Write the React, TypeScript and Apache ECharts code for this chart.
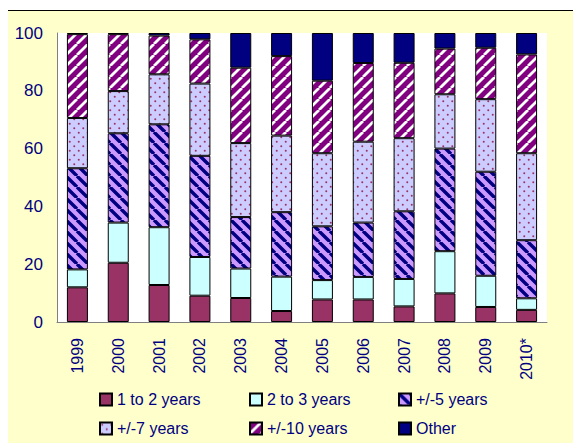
import React, { useEffect, useRef } from "react";
import * as echarts from "echarts";

// Years on the category axis
const years = ["1999", "2000", "2001", "2002", "2003", "2004", "2005", "2006", "2007", "2008", "2009", "2010*"];

// Share of each maturity band per year (%), stacked bottom to top
const oneToTwo = [12.0, 20.5, 12.8, 9.1, 8.3, 3.8, 7.8, 7.8, 5.4, 9.9, 5.2, 4.2];
const twoToThree = [6.2, 13.9, 20.0, 13.4, 10.2, 11.9, 6.7, 7.8, 9.5, 14.6, 10.8, 4.0];
const plusMinus5 = [35.0, 30.9, 35.6, 35.0, 17.8, 22.3, 18.6, 18.8, 23.4, 35.5, 36.0, 20.1];
const plusMinus7 = [17.4, 14.6, 17.3, 25.0, 25.6, 26.5, 25.3, 28.0, 25.3, 18.8, 25.1, 30.1];
const plusMinus10 = [29.0, 19.7, 13.4, 15.3, 26.1, 27.5, 25.1, 27.2, 26.1, 15.8, 17.8, 34.2];
const other = [0.4, 0.4, 0.9, 2.2, 12.0, 8.0, 16.5, 10.4, 10.3, 5.4, 5.1, 7.4];

const seriesNames = ["1 to 2 years", "2 to 3 years", "+/-5 years", "+/-7 years", "+/-10 years", "Other"];

const yTicks = [0, 20, 40, 60, 80, 100];

const NAVY = "#000080";
const FONT = "'Liberation Sans Narrow', 'Arial Narrow', 'Liberation Sans', Arial, sans-serif";

function stripeTile(bg: string, fg: string, size: number, lineW: number, dir: "/" | "\\") {
  const c = document.createElement("canvas");
  c.width = size;
  c.height = size;
  const ctx = c.getContext("2d")!;
  ctx.fillStyle = bg;
  ctx.fillRect(0, 0, size, size);
  ctx.strokeStyle = fg;
  ctx.lineWidth = lineW;
  ctx.beginPath();
  for (const o of [-size, 0, size]) {
    if (dir === "/") {
      ctx.moveTo(o, size);
      ctx.lineTo(o + size, 0);
    } else {
      ctx.moveTo(o, 0);
      ctx.lineTo(o + size, size);
    }
  }
  ctx.stroke();
  return c;
}

function dotTile(bg: string, fg: string, size: number, r: number) {
  const c = document.createElement("canvas");
  c.width = size;
  c.height = size;
  const ctx = c.getContext("2d")!;
  ctx.fillStyle = bg;
  ctx.fillRect(0, 0, size, size);
  ctx.fillStyle = fg;
  for (const [x, y] of [
    [size * 0.25, size * 0.25],
    [size * 0.75, size * 0.75],
  ]) {
    ctx.beginPath();
    ctx.arc(x, y, r, 0, Math.PI * 2);
    ctx.fill();
  }
  return c;
}

function pattern(canvas: HTMLCanvasElement) {
  return {
    image: canvas,
    repeat: "repeat",
    imageWidth: canvas.width,
    imageHeight: canvas.height,
  } as any;
}

export default function App() {
  const ref = useRef<HTMLDivElement>(null);

  useEffect(() => {
    if (!ref.current) return;
    const chart = echarts.init(ref.current, undefined, { renderer: "svg" });

    const fills = [
      "#993366",
      "#CCFFFF",
      pattern(stripeTile("#CC99FF", NAVY, 11, 3.4, "\\")),
      pattern(dotTile("#CCCCFF", "#993366", 9, 1.0)),
      pattern(stripeTile("#800080", "#FFFFFF", 11, 2.8, "/")),
      NAVY,
    ];
    const data = [oneToTwo, twoToThree, plusMinus5, plusMinus7, plusMinus10, other];

    // Legend laid out as a 3 x 2 grid
    const legendPos = [
      [99, 391],
      [249, 391],
      [398, 391],
      [99, 420],
      [249, 420],
      [398, 420],
    ];

    chart.setOption({
      animation: false,
      backgroundColor: "#FFFFCC",
      textStyle: { fontFamily: FONT },
      graphic: [
        { type: "rect", shape: { x: 0, y: 0, width: 573, height: 10 }, style: { fill: "#FFFFFF" }, z: -10 },
        { type: "rect", shape: { x: 0, y: 0, width: 8, height: 443 }, style: { fill: "#FFFFFF" }, z: -10 },
        {
          type: "line",
          shape: { x1: 8, y1: 10.5, x2: 573, y2: 10.5 },
          style: { stroke: "#000000", lineWidth: 1 },
        },
      ],
      grid: {
        left: 57,
        top: 33,
        right: 26,
        bottom: 121,
        show: true,
        backgroundColor: "#FFFFFF",
        borderWidth: 0,
      },
      legend: seriesNames.map((name, i) => ({
        data: [name],
        left: legendPos[i][0],
        top: legendPos[i][1],
        padding: 0,
        itemWidth: 12,
        itemHeight: 12,
        itemGap: 0,
        icon: "rect",
        selectedMode: false,
        textStyle: { color: NAVY, fontSize: 16, lineHeight: 17, fontFamily: FONT, padding: [0, 0, 0, 0] },
      })),
      xAxis: {
        type: "category",
        data: years,
        axisLine: { show: true, lineStyle: { color: "#808080", width: 1 } },
        axisTick: { show: false },
        axisLabel: {
          rotate: 90,
          margin: 16,
          color: NAVY,
          fontSize: 16,
          fontFamily: FONT,
          interval: 0,
        },
      },
      yAxis: {
        type: "value",
        min: yTicks[0],
        max: yTicks[yTicks.length - 1],
        interval: 20,
        splitLine: { show: false },
        axisLine: { show: true, lineStyle: { color: "#808080", width: 1 } },
        axisTick: { show: false },
        axisLabel: { color: NAVY, fontSize: 17, fontFamily: FONT, margin: 14 },
      },
      series: seriesNames.map((name, i) => ({
        name,
        type: "bar",
        stack: "share",
        barWidth: 21,
        data: data[i],
        itemStyle: {
          color: fills[i],
          borderColor: "#000000",
          borderWidth: 1,
        },
        emphasis: { disabled: true },
      })),
    });

    return () => chart.dispose();
  }, []);

  return (
    <div
      ref={ref}
      style={{ position: "absolute", left: 0, top: 0, width: 573, height: 443 }}
    />
  );
}
